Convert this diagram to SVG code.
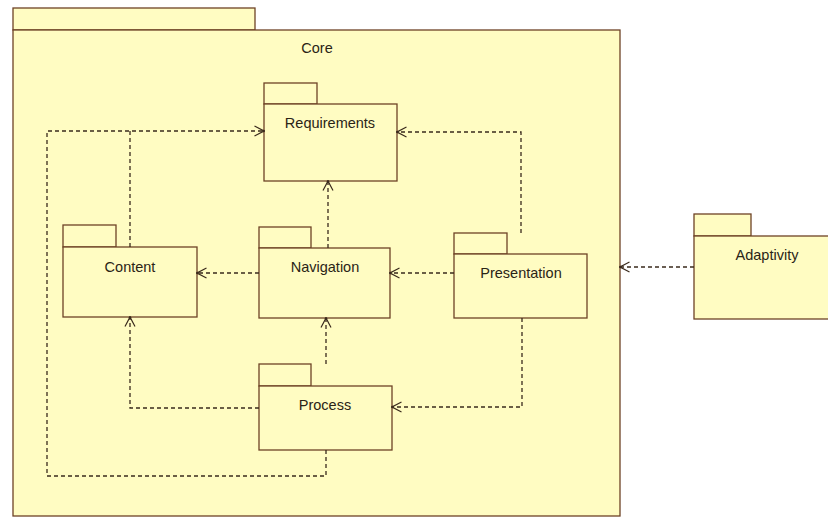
<svg xmlns="http://www.w3.org/2000/svg" width="828" height="518" viewBox="0 0 828 518">
  <style>
    .pkg { fill: #fffcc2; stroke: #6e4226; stroke-width: 1.3; }
    .lbl { font-family: "Liberation Sans", Arial, sans-serif; font-size: 14.5px; fill: #2a2416; text-anchor: middle; }
    .dep { fill: none; stroke: #3a2a1c; stroke-width: 1.3; stroke-dasharray: 4 3; marker-end: url(#open); }
    .dep2 { fill: none; stroke: #3a2a1c; stroke-width: 1.3; stroke-dasharray: 4 3; }
  </style>
  <defs>
    <marker id="open" viewBox="0 0 12 12" refX="11" refY="6" markerWidth="12" markerHeight="12" markerUnits="userSpaceOnUse" orient="auto">
      <path d="M1.5,1 L11,6 L1.5,11" fill="none" stroke="#3a2a1c" stroke-width="1.2"/>
      <circle cx="10.5" cy="6" r="1.3" fill="#3a2a1c"/>
    </marker>
  </defs>
  <rect width="828" height="518" fill="#ffffff"/>

  <g id="core">
    <rect class="pkg" x="13" y="8" width="242" height="22"/>
    <rect class="pkg" x="13" y="30" width="607" height="486"/>
    <text class="lbl" x="317" y="53">Core</text>
  </g>

  <g id="requirements">
    <rect class="pkg" x="264" y="83" width="53" height="21"/>
    <rect class="pkg" x="264" y="104" width="133" height="77"/>
    <text class="lbl" x="330" y="128">Requirements</text>
  </g>

  <g id="content">
    <rect class="pkg" x="63" y="225" width="53" height="22"/>
    <rect class="pkg" x="63" y="247" width="134" height="70"/>
    <text class="lbl" x="130" y="272">Content</text>
  </g>

  <g id="navigation">
    <rect class="pkg" x="259" y="227" width="52" height="21"/>
    <rect class="pkg" x="259" y="248" width="131" height="70"/>
    <text class="lbl" x="325" y="272">Navigation</text>
  </g>

  <g id="presentation">
    <rect class="pkg" x="454" y="233" width="53" height="21"/>
    <rect class="pkg" x="454" y="254" width="133" height="64"/>
    <text class="lbl" x="521" y="278">Presentation</text>
  </g>

  <g id="process">
    <rect class="pkg" x="259" y="364" width="52" height="22"/>
    <rect class="pkg" x="259" y="386" width="133" height="64"/>
    <text class="lbl" x="325" y="410">Process</text>
  </g>

  <g id="adaptivity">
    <rect class="pkg" x="694" y="214" width="57" height="22"/>
    <rect class="pkg" x="694" y="236" width="140" height="83"/>
    <text class="lbl" x="767" y="260">Adaptivity</text>
  </g>

  <g id="connectors">
    <!-- Process to Requirements, looping round the left side -->
    <path class="dep" d="M326,450 V476 H47 V131 H264"/>
    <!-- Content to Requirements, joining the loop -->
    <path class="dep2" d="M130,247 V131"/>
    <!-- Navigation to Requirements -->
    <path class="dep" d="M328,248 V181"/>
    <!-- Navigation to Content -->
    <path class="dep" d="M259,273 H197"/>
    <!-- Presentation to Navigation -->
    <path class="dep" d="M454,273 H390"/>
    <!-- Presentation to Requirements -->
    <path class="dep" d="M521,233 V132 H397"/>
    <!-- Presentation to Process -->
    <path class="dep" d="M522,318 V407 H392"/>
    <!-- Process to Navigation -->
    <path class="dep" d="M326,364 V318"/>
    <!-- Process to Content -->
    <path class="dep" d="M259,408 H130 V317"/>
    <!-- Adaptivity to Core -->
    <path class="dep" d="M694,267 H620"/>
  </g>
</svg>
